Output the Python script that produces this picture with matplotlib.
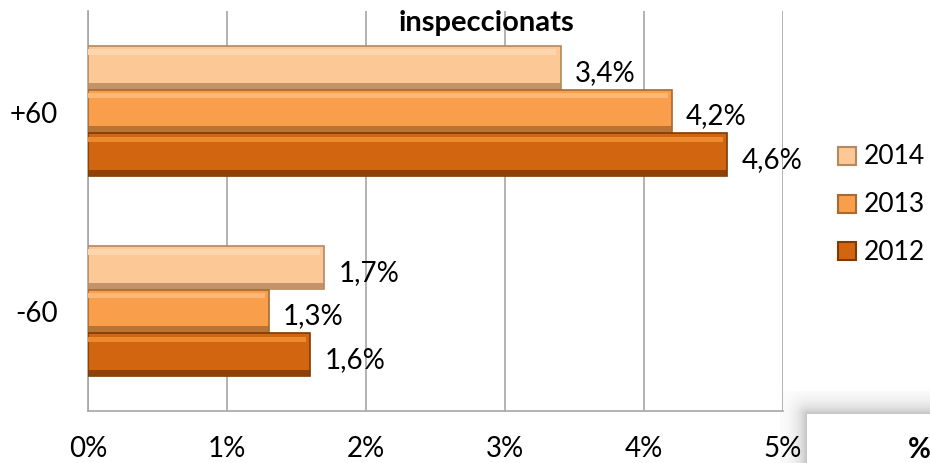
import numpy as np
import matplotlib.pyplot as plt
from matplotlib.patches import Rectangle

plt.rcParams['font.family'] = ['Lato', 'DejaVu Sans']

# data
categories = ['-60', '+60']
years = ['2014', '2013', '2012']
values = {
    '2014': [1.7, 3.4],
    '2013': [1.3, 4.2],
    '2012': [1.6, 4.6],
}
labels = {
    '2014': ['1,7%', '3,4%'],
    '2013': ['1,3%', '4,2%'],
    '2012': ['1,6%', '4,6%'],
}
x_ticks = [0, 1, 2, 3, 4, 5]
x_tick_labels = ['0%', '1%', '2%', '3%', '4%', '5%']

face = {'2014': '#FCC895', '2013': '#F99F4C', '2012': '#D2650F'}
light = {'2014': '#FDD6AE', '2013': '#FDB878', '2012': '#EE8A2E'}
dark = {'2014': '#B5885E', '2013': '#A9692F', '2012': '#7E3A05'}
offsets = {'2014': 0.218, '2013': 0.0, '2012': -0.218}
bh = 0.215
FS = 20

fig = plt.figure(figsize=(9.3, 4.64), dpi=100)
ax = fig.add_axes([88 / 930, 52 / 464, 695 / 930, 400 / 464])

y = np.arange(len(categories))
for yr in years:
    pos = y + offsets[yr]
    vals = np.array(values[yr])
    # main bar with darker rim
    ax.barh(pos, vals, height=bh, color=face[yr], edgecolor=dark[yr],
            linewidth=1.2, zorder=3)
    # bevel: light strip at top, dark strip at bottom
    ax.barh(pos + bh * 0.36, vals - 0.03, height=bh * 0.12, color=light[yr],
            linewidth=0, zorder=4)
    ax.barh(pos - bh * 0.42, vals, height=bh * 0.12, color=dark[yr],
            linewidth=0, alpha=0.8, zorder=4)
    for p, v, lab in zip(pos, vals, labels[yr]):
        ax.annotate(lab, (v, p), xytext=(10, -3), textcoords='offset points',
                    ha='left', va='center', fontsize=FS, zorder=5)

ax.set_xlim(0, 5)
ax.set_ylim(-0.5, 1.5)
ax.set_xticks(x_ticks)
ax.set_xticklabels(x_tick_labels, fontsize=FS)
ax.set_yticks(y)
ax.set_yticklabels(categories, fontsize=FS)
ax.tick_params(axis='x', length=0, pad=17)
ax.tick_params(axis='y', length=0, pad=22)
ax.grid(axis='x', color='#A6A6A6', linewidth=1.2, zorder=0)
for s in ['top', 'right']:
    ax.spines[s].set_visible(False)
for s in ['left', 'bottom']:
    ax.spines[s].set_color('#A6A6A6')
    ax.spines[s].set_linewidth(1.2)

fig.text(486 / 930, 1 - 31 / 464, 'inspeccionats', ha='center', va='baseline',
         fontsize=21, fontweight='bold')

# legend drawn by hand to the right
leg_y = [157, 205, 252]
for yr, ly in zip(years, leg_y):
    fig.patches.append(Rectangle((838 / 930, 1 - (ly + 9) / 464), 18 / 930, 18 / 464,
                                 transform=fig.transFigure, facecolor=face[yr],
                                 edgecolor=dark[yr], linewidth=1.5))
    fig.text(864 / 930, 1 - ly / 464, yr, ha='left', va='center', fontsize=19)

# shadow of an overlapping box in the lower right corner
sh = fig.add_axes([780 / 930, 0, 150 / 930, 72 / 464], zorder=-1)
xx, yy = np.meshgrid(np.arange(150), np.arange(72))
px, py = 27, 23
dx = np.clip(px - xx, 0, None)
dy = np.clip(py - yy, 0, None)
d = np.sqrt(dx ** 2 + dy ** 2)
inside = (xx >= px) & (yy >= py)
shade = 1 - 0.25 * np.exp(-d / 10.0)
shade[inside] = 1.0
sh.imshow(shade, cmap='gray', vmin=0, vmax=1, aspect='auto', interpolation='bilinear')
sh.axis('off')
fig.text(908 / 930, 1 - 450 / 464, '%', ha='left', va='center', fontsize=20,
         fontweight='bold')

fig.savefig('out.png', dpi=100)
